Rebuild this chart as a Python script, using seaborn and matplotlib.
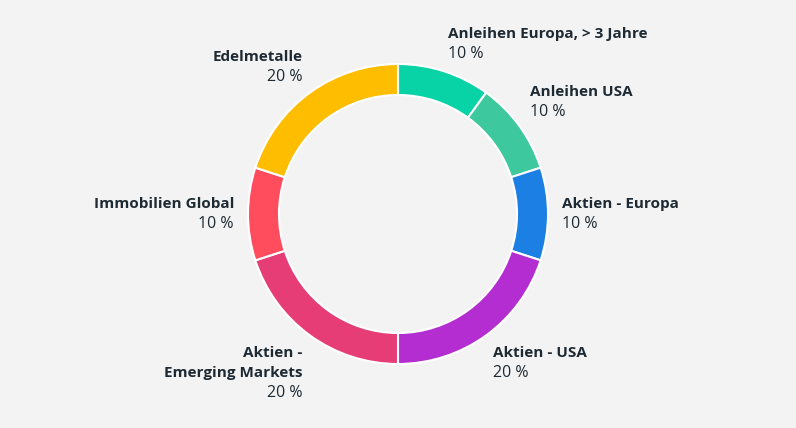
import numpy as np
import seaborn as sns
from matplotlib import pyplot as plt

# portfolio allocation
names = ['Anleihen Europa, > 3 Jahre', 'Anleihen USA', 'Aktien - Europa',
         'Aktien - USA', 'Aktien -\nEmerging Markets', 'Immobilien Global',
         'Edelmetalle']
shares = [10, 10, 10, 20, 20, 10, 20]
colors = ['#07D3A6', '#3DC99D', '#1B7FE4', '#B42DD1', '#E63D76', '#FF4D5E', '#FFBD00']

bg = '#F3F3F3'
txt = '#1E2A33'

sns.set_theme(style='white')
plt.rcParams['font.family'] = ['Open Sans', 'DejaVu Sans']

fig = plt.figure(figsize=(7.96, 4.28), dpi=100, facecolor=bg)
ax = fig.add_axes([0, 0, 1, 1])
ax.set_facecolor(bg)

cx, cy, R = 398, 214, 150
ax.pie(shares, colors=colors, startangle=90, counterclock=False,
       center=(cx, cy), radius=R,
       wedgeprops=dict(width=31, edgecolor='white', linewidth=1.5))
ax.set_xlim(0, 796)
ax.set_ylim(0, 428)
ax.set_aspect('equal')
ax.axis('off')

# labels outside the ring
r_lab = 160
line_h = 20
start = 90.0
total = sum(shares)
for name, val in zip(names, shares):
    span = 360.0 * val / total
    mid = np.deg2rad(start - span / 2)
    start -= span
    c, s = np.cos(mid), np.sin(mid)
    x = cx + (r_lab + 4 * abs(c)) * c
    y = cy + r_lab * s
    ha = 'left' if c > 0.01 else ('right' if c < -0.01 else 'center')
    lines = name.split('\n') + ['%d %%' % val]
    h = len(lines) * line_h
    if s > 0.01:
        top = h - 2
    elif s < -0.01:
        top = 0
    else:
        top = h / 2
    for i, line in enumerate(lines):
        bold = i < len(lines) - 1
        ax.annotate(line, (x, y), xytext=(0, top - (i + 0.5) * line_h),
                    textcoords='offset pixels', ha=ha, va='center',
                    fontsize=11 if bold else 11.5, color=txt,
                    fontweight='bold' if bold else 'normal')

fig.savefig('out.png', dpi=100, facecolor=bg)
